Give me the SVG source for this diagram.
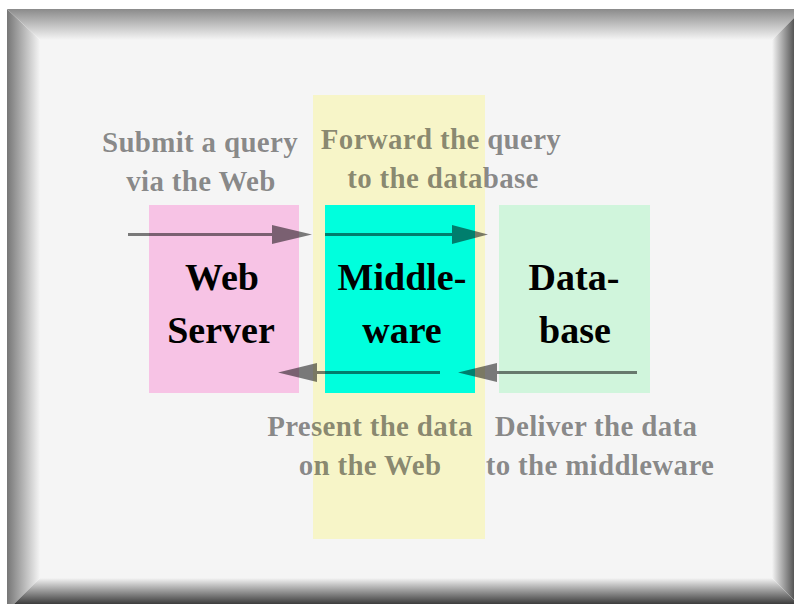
<svg xmlns="http://www.w3.org/2000/svg" width="794" height="604" viewBox="0 0 794 604">
<defs>
<linearGradient id="gL" x1="7" y1="0" x2="40" y2="0" gradientUnits="userSpaceOnUse"><stop offset="0" stop-color="#767676"/><stop offset="1" stop-color="#f5f5f5"/></linearGradient>
<linearGradient id="gT" x1="0" y1="9" x2="0" y2="40" gradientUnits="userSpaceOnUse"><stop offset="0" stop-color="#8a8a8a"/><stop offset="1" stop-color="#f5f5f5"/></linearGradient>
<linearGradient id="gR" x1="772" y1="0" x2="794" y2="0" gradientUnits="userSpaceOnUse"><stop offset="0" stop-color="#f5f5f5"/><stop offset="1" stop-color="#555555"/></linearGradient>
<linearGradient id="gB" x1="0" y1="578" x2="0" y2="604" gradientUnits="userSpaceOnUse"><stop offset="0" stop-color="#f5f5f5"/><stop offset="1" stop-color="#3c3c3c"/></linearGradient>
<style>
.node{font-family:"Liberation Serif","Times New Roman",serif;font-weight:bold;font-size:38px;fill:#000;text-anchor:middle}
.lbl{font-family:"Liberation Serif","Times New Roman",serif;font-weight:bold;font-size:29px;fill:#000;fill-opacity:0.45;text-anchor:middle;letter-spacing:0.3px}
.arr{opacity:0.5}
.arr line{stroke:#000;stroke-width:3}
.arr polygon{fill:#000}
</style>
</defs>
<rect width="794" height="604" fill="#ffffff"/>
<g id="frame">
<polygon points="7,9 40,40 40,578 14,604 7,604" fill="url(#gL)"/>
<polygon points="7,9 794,9 794,18 772,40 40,40" fill="url(#gT)"/>
<polygon points="772,40 794,18 794,600 772,578" fill="url(#gR)"/>
<polygon points="14,604 40,578 772,578 794,600 794,604" fill="url(#gB)"/>
<rect x="40" y="40" width="732" height="538" fill="#f5f5f5"/>
</g>
<rect id="band" x="313" y="95" width="172" height="444" fill="#f7f5c8"/>
<g id="web-server">
<rect x="149" y="205" width="150" height="188" fill="#f7c3e5"/>
<text class="node" x="222" y="290">Web</text>
<text class="node" x="221" y="343">Server</text>
</g>
<g id="middleware">
<rect x="325" y="205" width="150" height="188" fill="#00ffdd"/>
<text class="node" x="402" y="290">Middle-</text>
<text class="node" x="402" y="343">ware</text>
</g>
<g id="database">
<rect x="499" y="205" width="151" height="188" fill="#d0f5dc"/>
<text class="node" x="574" y="290">Data-</text>
<text class="node" x="575" y="343">base</text>
</g>
<g id="connectors">
<g class="arr"><line x1="128" y1="234.5" x2="273" y2="234.5"/><polygon points="272,225 312,234.5 272,244"/></g>
<g class="arr"><line x1="325" y1="234.5" x2="453" y2="234.5"/><polygon points="452,225 488,234.5 452,244"/></g>
<g class="arr"><line x1="440" y1="372.5" x2="316" y2="372.5"/><polygon points="317,363 278,372.5 317,382"/></g>
<g class="arr"><line x1="637" y1="372.5" x2="496" y2="372.5"/><polygon points="497,363 458,372.5 497,382"/></g>
</g>
<g id="labels">
<text class="lbl" x="200" y="152">Submit a query</text>
<text class="lbl" x="201" y="191">via the Web</text>
<text class="lbl" x="441" y="149">Forward the query</text>
<text class="lbl" x="443" y="188">to the database</text>
<text class="lbl" x="370" y="436">Present the data</text>
<text class="lbl" x="370" y="475">on the Web</text>
<text class="lbl" x="596" y="436">Deliver the data</text>
<text class="lbl" x="600" y="475">to the middleware</text>
</g>
</svg>
